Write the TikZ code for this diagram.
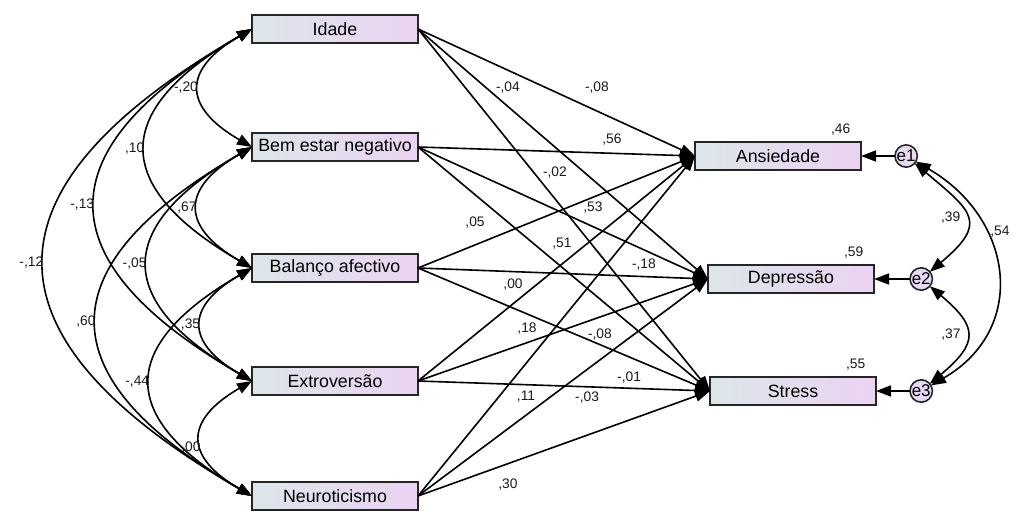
\documentclass[tikz,border=0pt]{standalone}
\usepackage{fontspec}
\setmainfont{Liberation Sans}
\usepackage{tikz}
\usetikzlibrary{positioning,arrows.meta}
\definecolor{boxLeft}{RGB}{220,230,233}
\definecolor{boxRight}{RGB}{235,211,243}
\definecolor{errFill}{RGB}{232,218,242}

\begin{document}
\begin{tikzpicture}[x=1pt, y=1pt, line width=1.6pt, >={Triangle[length=15pt,width=11pt]},
    varBox/.style={draw=black!85, left color=boxLeft, right color=boxRight, minimum width=166pt, minimum height=28pt, inner sep=0pt, outer sep=0pt, font=\fontsize{17.8}{20}\selectfont},
    errNode/.style={circle, draw=black!85, fill=errFill, minimum size=22pt, inner sep=0pt, outer sep=0pt, font=\fontsize{17}{19}\selectfont},
    coef/.style={font=\fontsize{13.8}{15}\selectfont, inner sep=1pt, text=black!90},
    cov/.style={<->, out=210, in=150, looseness=1.75}]
    \useasboundingbox (0,0) rectangle (1019,-511);

    \node[varBox] (idade) at (335,-29) {Idade};
    \node[varBox, below=90pt of idade] (bemEstar) {Bem estar negativo};
    \node[varBox, below=93pt of bemEstar] (balanco) {Balanço afectivo};
    \node[varBox, below=85pt of balanco] (extro) {Extroversão};
    \node[varBox, below=87pt of extro] (neuro) {Neuroticismo};

    \node[varBox, right=277pt of bemEstar, yshift=-9pt] (ansiedade) {Ansiedade};
    \node[varBox, right=290pt of balanco, yshift=-11pt] (depressao) {Depressão};
    \node[varBox, right=292pt of extro, yshift=-10pt] (stress) {Stress};

    \node[errNode, right=34pt of ansiedade] (e1) {e1};
    \node[errNode, right=36pt of depressao] (e2) {e2};
    \node[errNode, right=34pt of stress] (e3) {e3};

    \node[coef, above left=5pt and 9pt of ansiedade.north east] (r2Ans) {,46};
    \node[coef, above left=5pt and 9pt of depressao.north east] (r2Dep) {,59};
    \node[coef, above left=5pt and 9pt of stress.north east] (r2Str) {,55};

    % \draw[cov] (idade.west) to (neuro.west);
    \draw[cov] (idade.west) to node[coef, midway, left] (cIB) {-,20} (bemEstar.west);
    \draw[cov] (idade.west) to node[coef, midway, left] (cIL) {,10} (balanco.west);
    \draw[cov] (idade.west) to node[coef, midway, left] (cIE) {-,13} (extro.west);
    \draw[cov] (idade.west) to node[coef, midway, left] (cIN) {-,12} (neuro.west);
    \draw[cov] (bemEstar.west) to node[coef, midway, left] (cBL) {,67} (balanco.west);
    \draw[cov] (bemEstar.west) to node[coef, midway, left] (cBE) {-,05} (extro.west);
    \draw[cov] (bemEstar.west) to node[coef, midway, left] (cBN) {,60} (neuro.west);
    \draw[cov] (balanco.west) to node[coef, midway, left] (cLE) {,35} (extro.west);
    \draw[cov] (balanco.west) to node[coef, midway, left] (cLN) {-,44} (neuro.west);
    \draw[cov] (extro.west) to node[coef, pos=0.58, left] (cEN) {,00} (neuro.west);

    \draw[->] (idade.east) -- (ansiedade.west) node[coef, pos=0.646, yshift=23pt] (bIA) {-,08};
    \draw[->] (idade.east) -- (depressao.west) node[coef, pos=0.31, yshift=19pt] (bID) {-,04};
    \draw[->] (idade.east) -- (stress.west) node[coef, pos=0.469, yshift=26pt] (bIS) {-,02};
    \draw[->] (bemEstar.east) -- (ansiedade.west) node[coef, pos=0.70, yshift=14pt] (bBA) {,56};
    \draw[->] (bemEstar.east) -- (depressao.west) node[coef, pos=0.603, yshift=19pt] (bBD) {,53};
    \draw[->] (bemEstar.east) -- (stress.west) node[coef, pos=0.493, yshift=24pt] (bBS) {,51};
    \draw[->] (balanco.east) -- (ansiedade.west) node[coef, pos=0.206, yshift=22pt] (bLA) {,05};
    \draw[->] (balanco.east) -- (depressao.west) node[coef, pos=0.779, yshift=12pt] (bLD) {-,18};
    \draw[->] (balanco.east) -- (stress.west) node[coef, pos=0.623, yshift=10pt] (bLS) {-,08};
    \draw[->] (extro.east) -- (ansiedade.west) node[coef, pos=0.343, yshift=19pt] (bEA) {,00};
    \draw[->] (extro.east) -- (depressao.west) node[coef, pos=0.376, yshift=14pt] (bED) {,18};
    \draw[->] (extro.east) -- (stress.west) node[coef, pos=0.723, yshift=11pt] (bES) {-,01};
    \draw[->] (neuro.east) -- (ansiedade.west) node[coef, pos=0.39, yshift=-33pt] (bNA) {,11};
    \draw[->] (neuro.east) -- (depressao.west) node[coef, pos=0.583, yshift=-28pt] (bND) {-,03};
    \draw[->] (neuro.east) -- (stress.west) node[coef, pos=0.308, yshift=-21pt] (bNS) {,30};

    \draw[->] (e1) -- (ansiedade);
    \draw[->] (e2) -- (depressao);
    \draw[->] (e3) -- (stress);

    \draw[<->] (e1) to[out=-40, in=40, looseness=1.78] node[coef, midway, left=4pt] (c12) {,39} (e2);
    \draw[<->] (e2) to[out=-40, in=40, looseness=1.67] node[coef, midway, left=4pt] (c23) {,37} (e3);
    \draw[<->] (e1) to[out=-30, in=30, looseness=1.29] node[coef, pos=0.33, right=4pt] (c13) {,54} (e3);
\end{tikzpicture}
\end{document}
